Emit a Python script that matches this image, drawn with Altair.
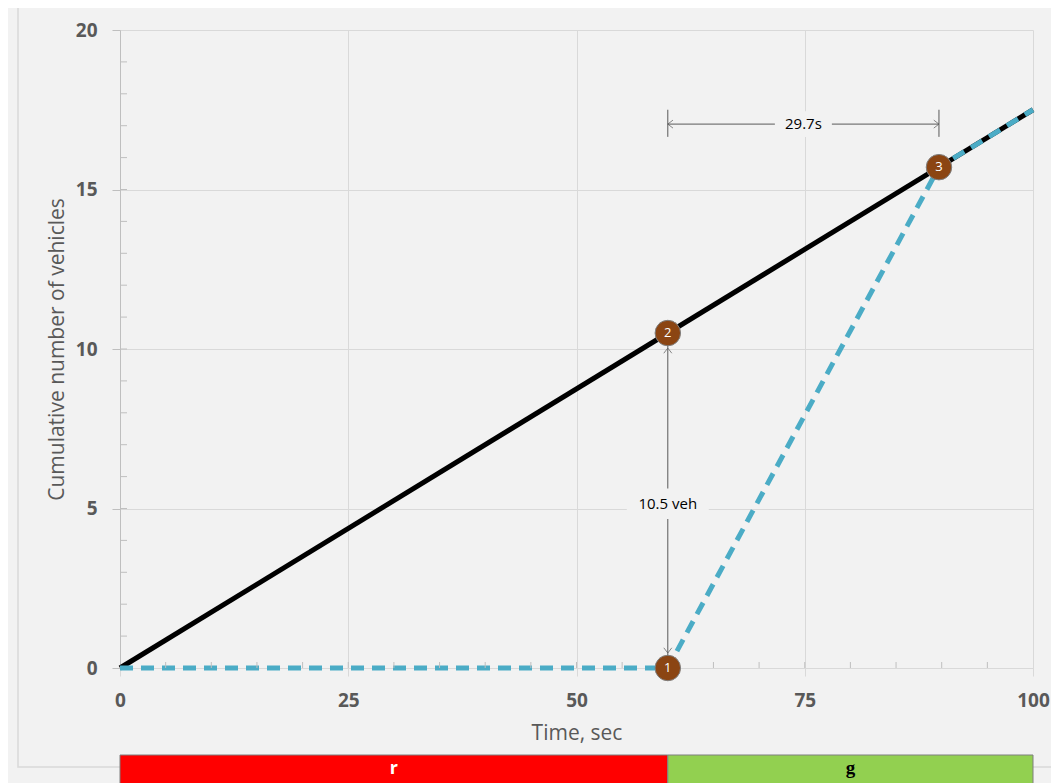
import altair as alt
import pandas as pd

# ---- data ----
arr_time = [0, 100]
arr_count = [0, 17.5]

dep_time = [0, 60, 89.7, 100]
dep_count = [0, 0, 15.7, 17.5]

pt_label = ["1", "2", "3"]
pt_time = [60, 60, 89.7]
pt_count = [0, 10.5, 15.7]

phase_name = ["r", "g"]
phase_start = [0, 60]
phase_end = [60, 100]
phase_color = ["#ff0000", "#92d050"]
phase_text_color = ["#ffffff", "#000000"]

queue_time = 60
queue_low = 0
queue_high = 10.5
queue_label = "10.5 veh"
queue_label_y = 5.15

delay_start = 60
delay_end = 89.7
delay_y = 17.05
delay_bar_low = 16.65
delay_bar_high = 17.5
delay_label = "29.7s"

y_minor = list(range(1, 20))
x_minor = list(range(5, 100, 5))

FONT = "Open Sans"
BG = "#f2f2f2"
W, H = 913, 638

arr_df = pd.DataFrame({"t": arr_time, "n": arr_count})
dep_df = pd.DataFrame({"t": dep_time, "n": dep_count})
pt_df = pd.DataFrame({"t": pt_time, "n": pt_count, "lab": pt_label})
ph_df = pd.DataFrame({"name": phase_name, "s": phase_start, "e": phase_end,
                      "col": phase_color, "tc": phase_text_color})
ph_df["mid"] = (ph_df["s"] + ph_df["e"]) / 2

xs = alt.Scale(domain=[0, 100], nice=False)
ys = alt.Scale(domain=[0, 20], nice=False)

x_axis = alt.Axis(values=[0, 25, 50, 75, 100], title="Time, sec", grid=True,
                  gridColor="#d9d9d9", domainColor="#d9d9d9", tickColor="#d9d9d9",
                  tickSize=8, labelFont=FONT, labelFontSize=19, labelColor="#595959",
                  labelFontWeight="bold", labelPadding=15, titleFont=FONT, titleFontSize=21,
                  titleColor="#595959", titleFontWeight="normal", titlePadding=12,
                  labelFlush=False)
y_axis = alt.Axis(values=[0, 5, 10, 15, 20], title="Cumulative number of vehicles", grid=True,
                  gridColor="#d9d9d9", domainColor="#bfbfbf", tickColor="#bfbfbf",
                  tickSize=8, labelFont=FONT, labelFontSize=19, labelColor="#595959",
                  labelFontWeight="bold", labelPadding=15, titleFont=FONT, titleFontSize=21,
                  titleColor="#595959", titleFontWeight="normal", titlePadding=8)

# frame around the figure
frame = alt.Chart(pd.DataFrame({"a": [0]})).mark_rect(
    fillOpacity=0, stroke="#d9d9d9", strokeWidth=1.5
).encode(x=alt.value(-102), x2=alt.value(960), y=alt.value(-23), y2=alt.value(737))

arrival = alt.Chart(arr_df).mark_line(color="#000000", strokeWidth=5).encode(
    x=alt.X("t:Q", scale=xs, axis=x_axis),
    y=alt.Y("n:Q", scale=ys, axis=y_axis),
)

departure = alt.Chart(dep_df).mark_line(
    color="#4bacc6", strokeWidth=5, strokeDash=[13, 8], strokeCap="butt"
).encode(x=alt.X("t:Q", scale=xs), y=alt.Y("n:Q", scale=ys))

y_minor_ticks = alt.Chart(pd.DataFrame({"n": y_minor})).mark_rule(
    color="#bfbfbf", strokeWidth=1
).encode(y=alt.Y("n:Q", scale=ys), x=alt.value(0), x2=alt.value(7))

x_minor_ticks = alt.Chart(pd.DataFrame({"t": x_minor})).mark_rule(
    color="#bfbfbf", strokeWidth=1
).encode(x=alt.X("t:Q", scale=xs), y=alt.value(H - 6), y2=alt.value(H))

# queue annotation (vertical arrow)
q_df = pd.DataFrame({"t": [queue_time], "lo": [queue_low], "hi": [queue_high],
                     "ly": [queue_label_y], "lab": [queue_label]})
q_rule = alt.Chart(q_df).mark_rule(color="#595959", strokeWidth=1).encode(
    x=alt.X("t:Q", scale=xs), y=alt.Y("lo:Q", scale=ys), y2="hi:Q")
V_PATH = "M-1,1.3L0,0L1,1.3"
q_head_top = alt.Chart(q_df).mark_point(
    shape=V_PATH, size=64, filled=False, color="#595959", strokeWidth=1, yOffset=15
).encode(x=alt.X("t:Q", scale=xs), y=alt.Y("hi:Q", scale=ys))
q_head_bot = alt.Chart(q_df).mark_point(
    shape=V_PATH, size=64, filled=False, color="#595959", strokeWidth=1, yOffset=-15, angle=180
).encode(x=alt.X("t:Q", scale=xs), y=alt.Y("lo:Q", scale=ys))
q_box = alt.Chart(q_df).mark_point(
    shape="M-1,-0.37L1,-0.37L1,0.37L-1,0.37Z", size=6724, filled=True, fill=BG,
    opacity=1, strokeWidth=0
).encode(x=alt.X("t:Q", scale=xs), y=alt.Y("ly:Q", scale=ys))
q_text = alt.Chart(q_df).mark_text(
    font=FONT, fontSize=15, color="#000000", baseline="middle", align="center"
).encode(x=alt.X("t:Q", scale=xs), y=alt.Y("ly:Q", scale=ys), text="lab:N")

# delay annotation (horizontal arrow)
d_df = pd.DataFrame({"s": [delay_start], "e": [delay_end], "y": [delay_y],
                     "lo": [delay_bar_low], "hi": [delay_bar_high], "lab": [delay_label]})
d_df["mid"] = (d_df["s"] + d_df["e"]) / 2
d_rule = alt.Chart(d_df).mark_rule(color="#595959", strokeWidth=1).encode(
    x=alt.X("s:Q", scale=xs), x2="e:Q", y=alt.Y("y:Q", scale=ys))
d_bar_l = alt.Chart(d_df).mark_rule(color="#595959", strokeWidth=1).encode(
    x=alt.X("s:Q", scale=xs), y=alt.Y("lo:Q", scale=ys), y2="hi:Q")
d_bar_r = alt.Chart(d_df).mark_rule(color="#595959", strokeWidth=1).encode(
    x=alt.X("e:Q", scale=xs), y=alt.Y("lo:Q", scale=ys), y2="hi:Q")
d_head_l = alt.Chart(d_df).mark_point(
    shape=V_PATH, size=64, filled=False, color="#595959", strokeWidth=1, angle=270
).encode(x=alt.X("s:Q", scale=xs), y=alt.Y("y:Q", scale=ys))
d_head_r = alt.Chart(d_df).mark_point(
    shape=V_PATH, size=64, filled=False, color="#595959", strokeWidth=1, angle=90
).encode(x=alt.X("e:Q", scale=xs), y=alt.Y("y:Q", scale=ys))
d_box = alt.Chart(d_df).mark_point(
    shape="M-1,-0.45L1,-0.45L1,0.45L-1,0.45Z", size=3249, filled=True, fill=BG,
    opacity=1, strokeWidth=0
).encode(x=alt.X("mid:Q", scale=xs), y=alt.Y("y:Q", scale=ys))
d_text = alt.Chart(d_df).mark_text(
    font=FONT, fontSize=15, color="#000000", baseline="middle", align="center"
).encode(x=alt.X("mid:Q", scale=xs), y=alt.Y("y:Q", scale=ys), text="lab:N")

# numbered points
pts = alt.Chart(pt_df).mark_point(
    shape="circle", size=650, filled=True, fill="#8b4513", stroke="#7f7f7f",
    strokeWidth=1, opacity=1
).encode(x=alt.X("t:Q", scale=xs), y=alt.Y("n:Q", scale=ys))
pt_text = alt.Chart(pt_df).mark_text(
    font=FONT, fontSize=13, color="#ffffff", baseline="middle", align="center"
).encode(x=alt.X("t:Q", scale=xs), y=alt.Y("n:Q", scale=ys), text="lab:N")

# signal phase strip
ph_rect = alt.Chart(ph_df).mark_rect(stroke="#7f7f7f", strokeWidth=1).encode(
    x=alt.X("s:Q", scale=xs), x2="e:Q", y=alt.value(725), y2=alt.value(770),
    fill=alt.Fill("col:N", scale=None))
ph_text_r = alt.Chart(ph_df).transform_filter(alt.datum.name == "r").mark_text(
    font=FONT, fontSize=18, fontWeight="bold", baseline="middle", align="center"
).encode(x=alt.X("mid:Q", scale=xs), y=alt.value(739), text="name:N",
         color=alt.Color("tc:N", scale=None))
ph_text_g = alt.Chart(ph_df).transform_filter(alt.datum.name == "g").mark_text(
    font="Liberation Serif", fontSize=19, fontWeight="bold", baseline="middle", align="center"
).encode(x=alt.X("mid:Q", scale=xs), y=alt.value(738), text="name:N",
         color=alt.Color("tc:N", scale=None))

chart = alt.layer(
    frame, arrival, departure, y_minor_ticks, x_minor_ticks,
    q_rule, q_box, q_text, q_head_top, q_head_bot,
    d_rule, d_bar_l, d_bar_r, d_head_l, d_head_r, d_box, d_text,
    pts, pt_text, ph_rect, ph_text_r, ph_text_g,
).properties(
    width=W, height=H,
    autosize=alt.AutoSizeParams(type="none"),
    padding={"left": 112, "top": 22, "right": 18, "bottom": 115},
    background=BG,
).configure_view(stroke=None)

chart.save("out.html", embed_options={"renderer": "svg", "actions": False})
